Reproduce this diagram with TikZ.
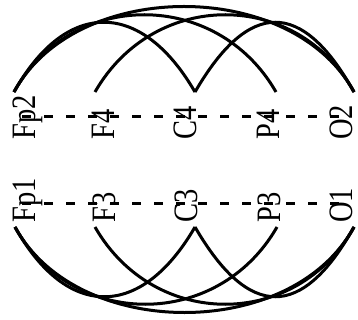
\documentclass[tikz,border=0pt]{standalone}
\usepackage{fontspec}
\setmainfont{Liberation Serif}
\usetikzlibrary{calc}
\begin{document}
\begin{tikzpicture}[x=1pt,y=-1pt,
  lab/.style={rotate=90,anchor=base west,inner sep=0pt,font=\fontsize{28.5}{28.5}\selectfont},
  arcline/.style={line width=3pt},
  dsh/.style={line width=3pt,dash pattern=on 9pt off 13pt}]
\useasboundingbox (0,0) rectangle (358,320);
% dashed lines
\coordinate (d2l) at (22,117);
\coordinate (d2r) at (348,117);
\coordinate (d1l) at (22,203);
\coordinate (d1r) at (348,203);
\draw[dsh] (d2l) -- (d2r);
\draw[dsh] (d1l) -- (d1r);
% labels
\node[lab] (Fp2) at (35,140) {\scalebox{1}[1.2]{Fp2}};
\node[lab] (F4)  at (114,140) {\scalebox{1}[1.2]{F4}};
\node[lab] (C4)  at (196,140) {\scalebox{1}[1.2]{C4}};
\node[lab] (P4)  at (279,140) {\scalebox{1}[1.2]{P4}};
\node[lab] (O2)  at (352,140) {\scalebox{1}[1.2]{O2}};
\node[lab] (Fp1) at (35,223) {\scalebox{1}[1.2]{Fp1}};
\node[lab] (F3)  at (115,223) {\scalebox{1}[1.2]{F3}};
\node[lab] (C3)  at (197,223) {\scalebox{1}[1.2]{C3}};
\node[lab] (P3)  at (280,223) {\scalebox{1}[1.2]{P3}};
\node[lab] (O1)  at (352,223) {\scalebox{1}[1.2]{O1}};
% arc end points
\coordinate (tFp2) at (14,92);
\coordinate (tF4)  at (95,92);
\coordinate (tC4)  at (195,92);
\coordinate (tP4)  at (276,92);
\coordinate (tO2)  at (354,92);
\coordinate (bFp1) at (15,227);
\coordinate (bF3)  at (95,227);
\coordinate (bC3)  at (195,227);
\coordinate (bP3)  at (277,227);
\coordinate (bO1)  at (354,227);
% top arcs
\draw[arcline] (tFp2) .. controls ($(tFp2)+(62,-114)$) and ($(tO2)+(-62,-114)$) .. (tO2);
\draw[arcline] (tFp2) .. controls ($(tFp2)+(57,-103)$) and ($(tP4)+(-59,-103)$) .. (tP4);
\draw[arcline] (tF4) .. controls ($(tF4)+(59,-103)$) and ($(tO2)+(-57,-103)$) .. (tO2);
\draw[arcline] (tFp2) .. controls ($(tFp2)+(52,-93)$) and ($(tC4)+(-54,-93)$) .. (tC4);
\draw[arcline] (tC4) .. controls ($(tC4)+(54,-93)$) and ($(tO2)+(-52,-93)$) .. (tO2);
% bottom arcs
\draw[arcline] (bFp1) .. controls ($(bFp1)+(62,114)$) and ($(bO1)+(-62,114)$) .. (bO1);
\draw[arcline] (bFp1) .. controls ($(bFp1)+(57,103)$) and ($(bP3)+(-59,103)$) .. (bP3);
\draw[arcline] (bF3) .. controls ($(bF3)+(59,103)$) and ($(bO1)+(-57,103)$) .. (bO1);
\draw[arcline] (bFp1) .. controls ($(bFp1)+(52,93)$) and ($(bC3)+(-54,93)$) .. (bC3);
\draw[arcline] (bC3) .. controls ($(bC3)+(54,93)$) and ($(bO1)+(-52,93)$) .. (bO1);
\end{tikzpicture}
\end{document}
